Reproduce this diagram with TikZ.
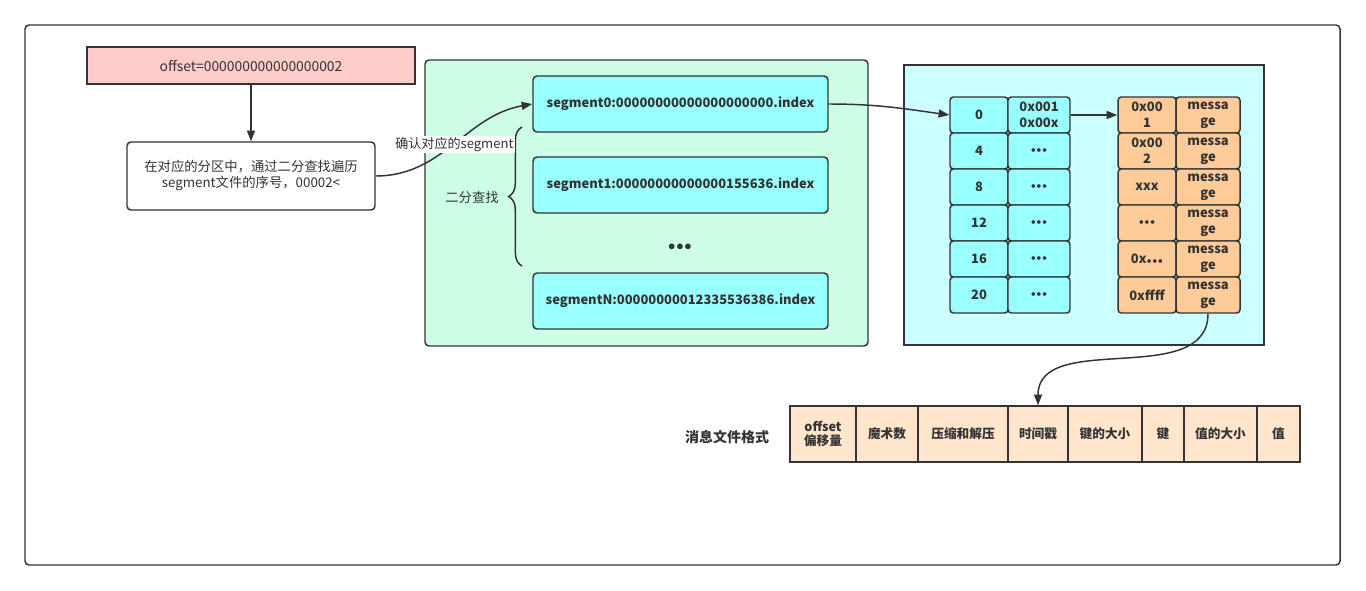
\documentclass[tikz,border=0pt]{standalone}
\usepackage{fontspec}
\setmainfont{Noto Sans CJK SC}
\usepackage{tikz}
\usetikzlibrary{shapes}
\usetikzlibrary{arrows.meta,decorations.pathreplacing,positioning}
\definecolor{linegray}{HTML}{333333}
\definecolor{pinkfill}{HTML}{FFCCCC}
\definecolor{greenfill}{HTML}{CCFFE6}
\definecolor{cyanfill}{HTML}{CCFFFF}
\definecolor{segfill}{HTML}{99FFFF}
\definecolor{msgfill}{HTML}{FFCC99}
\definecolor{fmtfill}{HTML}{FFE6CC}
\newcommand{\celldots}{{\fontsize{6}{6}\selectfont$\bullet\!\bullet\!\bullet$}}
\tikzset{base box/.style={draw=linegray, text=linegray, line width=1.1pt, inner sep=1pt, align=center,
    font=\fontsize{10}{12}\selectfont}}
\tikzset{plain box/.style={base box, rounded corners=3pt, fill=white}}
\tikzset{seg box/.style={base box, rounded corners=3pt, fill=segfill, font=\fontsize{9.7}{11}\selectfont\bfseries,
    minimum width=221.25pt, minimum height=42pt}}
\tikzset{idx cell/.style={base box, rounded corners=2.5pt, fill=segfill, font=\fontsize{9.7}{12}\selectfont\bfseries,
    minimum width=#1, minimum height=27pt}}
\tikzset{msg cell/.style={idx cell=#1, fill=msgfill}}
\tikzset{fmt cell/.style={base box, fill=fmtfill, font=\fontsize{9.5}{11}\selectfont\bfseries,
    minimum width=#1, minimum height=42pt}}
\tikzset{flow edge/.style={draw=linegray, line width=1.1pt, -{Triangle[length=8pt,width=6pt]}}}

\begin{document}
\begin{tikzpicture}
  [x=0.75pt, y=-0.75pt]
  \useasboundingbox (0,0) rectangle (1366,590);
  \draw [linegray, line width=1.1pt, rounded corners=3pt] (25,25) rectangle (1340,565);

  % left column
  \node [base box, fill=pinkfill, font=\fontsize{10.4}{12}\selectfont, minimum width=246pt, minimum height=27.75pt] (offset) at (251,65.5) {offset=000000000000000002};
  \node [plain box, minimum width=186pt, minimum height=51pt]                (search) at (251,176)  {在对应的分区中，通过二分查找遍历\\segment文件的序号，00002<};

  % segment files
  \node [base box, rounded corners=3pt, fill=greenfill, minimum width=332.25pt, minimum height=214.5pt] (segpanel) at (646.5,203) {};
  \node [seg box] (seg0) at (680.5,104) {segment0:00000000000000000000.index};
  \node [seg box] (seg1) at (680.5,185) {segment1:00000000000000155636.index};
  \node [font=\bfseries\fontsize{11}{12}\selectfont, text=linegray] (segdots) at (680,247) {$\bullet\!\bullet\!\bullet$};
  \node [seg box] (segN) at (680.5,301) {segmentN:00000000012335536386.index};
  \draw [linegray, line width=1.1pt, decorate, decoration={brace, amplitude=10pt}] (522,266) -- (522,127);
  \node [font=\fontsize{10}{12}\selectfont, text=linegray] (bisect) at (472,197) {二分查找};

  % index and log
  \node [base box, fill=cyanfill, minimum width=270pt, minimum height=210pt] (logpanel) at (1084,205) {};
  \foreach \y/\k/\v/\m/\g [count=\i] in {115/0/{0x001\\0x00x}/{0x00\\1}/{messa\\ge},
                                         151/4/{\celldots}/{0x00\\2}/{messa\\ge},
                                         187/8/{\celldots}/xxx/{messa\\ge},
                                         223/12/{\celldots}/{\celldots}/{messa\\ge},
                                         259/16/{\celldots}/{0x\celldots}/{messa\\ge},
                                         295/20/{\celldots}/0xffff/{messa\\ge}} {
    \node [idx cell=43.5pt] (idx\i a) at (979,\y)  {\k};
    \node [idx cell=46.5pt] (idx\i b) at (1039,\y) {\v};
    \node [msg cell=43.5pt] (msg\i a) at (1147,\y) {\m};
    \node [msg cell=48pt]   (msg\i b) at (1208,\y) {\g};
  }

  % message format
  \node [font=\fontsize{10.5}{12}\selectfont\bfseries, text=linegray] (fmtlabel) at (727,437) {消息文件格式};
  \foreach \x/\w/\t [count=\i] in {823/49.5pt/{offset\\偏移量}, 887/46.5pt/魔术数, 963/67.5pt/压缩和解压,
                                   1038/45pt/时间戳, 1105/55.5pt/键的大小, 1163/31.5pt/键,
                                   1220.5/54.75pt/值的大小, 1278.5/32.25pt/值} {
    \node [fmt cell=\w] (fmt\i) at (\x,434) {\t};
  }

  \draw [flow edge] (offset) -- (search);
  \draw [flow edge] (search.east) to [out=0,in=190] node [pos=0.5, fill=white, inner sep=1pt,
        font=\fontsize{9.8}{11}\selectfont, text=linegray] {确认对应的segment} (seg0.west);
  \draw [flow edge] (seg0.east) to [out=0,in=172] (idx1a.west);
  \draw [flow edge] (idx1b.east) -- (msg1a.west);
  \draw [flow edge] (msg6b.south) to [out=-90,in=90] (fmt4.north);
\end{tikzpicture}
\end{document}
